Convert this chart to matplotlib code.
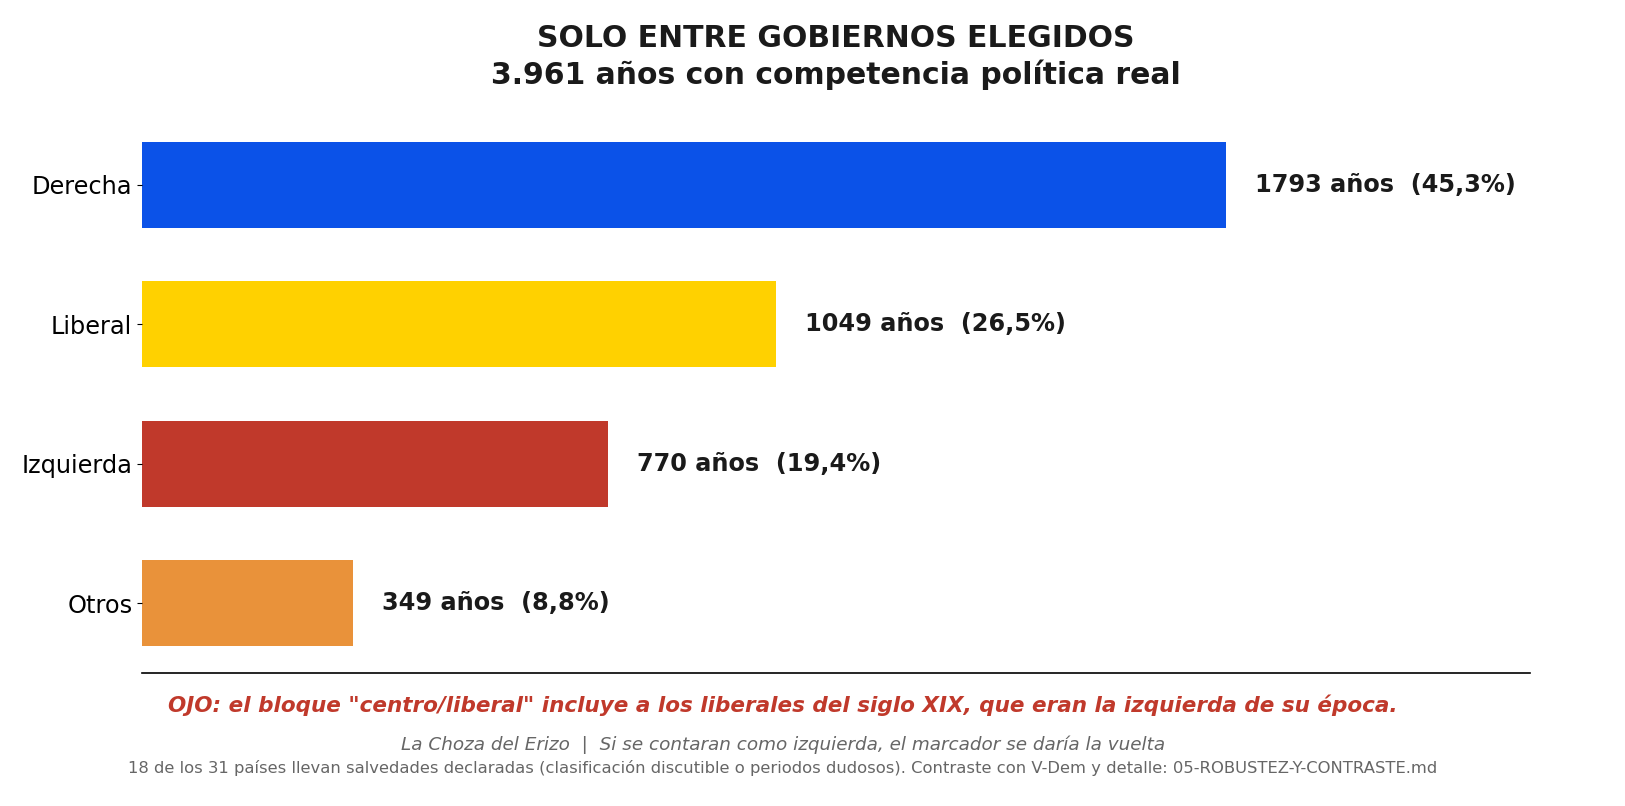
import matplotlib
matplotlib.use("Agg")
import matplotlib.pyplot as plt

categorias = ["Derecha", "Liberal", "Izquierda", "Otros"]
anos = [1793, 1049, 770, 349]
colores = ["#0B52E8", "#FFD100", "#C0392B", "#E9923A"]
total = sum(anos)

titulo = "SOLO ENTRE GOBIERNOS ELEGIDOS\n3.961 años con competencia política real"
nota_ojo = ('OJO: el bloque "centro/liberal" incluye a los liberales del siglo XIX, '
            'que eran la izquierda de su época.')
nota_firma = "La Choza del Erizo  |  Si se contaran como izquierda, el marcador se daría la vuelta"
nota_fuente = ("18 de los 31 países llevan salvedades declaradas (clasificación discutible o "
               "periodos dudosos). Contraste con V-Dem y detalle: 05-ROBUSTEZ-Y-CONTRASTE.md")

W, H = 1625, 806
fig = plt.figure(figsize=(W / 100, H / 100), dpi=100)
ax = fig.add_axes([142 / W, 1 - 673 / H, (1530 - 142) / W, (673 - 115) / H])

y = list(range(len(categorias)))
ax.barh(y, anos, height=0.62, color=colores)
ax.set_ylim(len(categorias) - 0.5, -0.5)
ax.set_xlim(0, max(anos) * 1.28)

for yi, v in zip(y, anos):
    pct = f"{100 * v / total:.1f}".replace(".", ",")
    ax.text(v + 48, yi, f"{v} años  ({pct}%)", va="center", ha="left",
            fontsize=17.3, fontweight="bold", color="#1a1a1a")

ax.set_yticks(y)
ax.set_yticklabels(categorias, fontsize=17.3)
ax.set_xticks([])
for s in ["top", "right", "left"]:
    ax.spines[s].set_visible(False)
ax.spines["bottom"].set_linewidth(1.2)

ax.set_title(titulo, fontsize=21.5, fontweight="bold", color="#1a1a1a",
             pad=22, linespacing=1.28)

fig.text(783 / W, 1 - 705 / H, nota_ojo, ha="center", va="center",
         fontsize=15.5, fontweight="bold", style="italic", color="#C0392B")
fig.text(783 / W, 1 - 745 / H, nota_firma, ha="center", va="center",
         fontsize=13.2, style="italic", color="#666666")
fig.text(783 / W, 1 - 768 / H, nota_fuente, ha="center", va="center",
         fontsize=11.75, color="#666666")

fig.savefig("out.png", dpi=100)
